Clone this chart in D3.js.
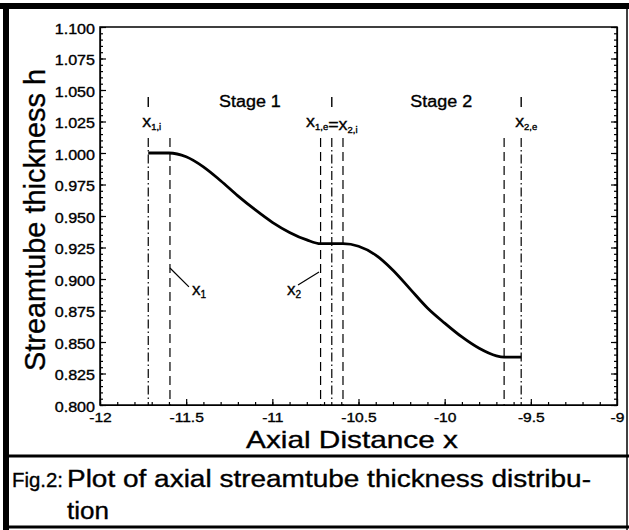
<!DOCTYPE html>
<html>
<head>
<meta charset="utf-8">
<script src="https://cdn.jsdelivr.net/npm/d3@7/dist/d3.min.js"></script>
<style>
  body { margin: 0; background: #fff; }
  svg text { font-family: "Liberation Sans", Arial, Helvetica, sans-serif; fill: #000; stroke: #000; stroke-width: 0.35px; }
</style>
</head>
<body>
<svg id="chart" width="629" height="530"></svg>
<script>
// curva h(x), estagio 1 e estagio 2
const stage1X = [-11.72, -11.60, -11.50, -11.40, -11.30, -11.20, -11.10, -11.00, -10.90, -10.80, -10.72];
const stage1H = [1.000, 1.000, 0.997, 0.989, 0.978, 0.966, 0.955, 0.945, 0.937, 0.931, 0.928];
const stage2X = [-10.72, -10.59, -10.50, -10.40, -10.30, -10.20, -10.10, -10.00, -9.90, -9.80, -9.70, -9.655, -9.556];
const stage2H = [0.928, 0.928, 0.926, 0.919, 0.907, 0.892, 0.877, 0.865, 0.854, 0.845, 0.839, 0.838, 0.838];

// estacoes (traco-ponto) e bordas (tracejado)
const stationX = [-11.72, -10.655, -9.556];
const stationNames = [
    [['x', '1,i']],
    [['x', '1,e'], ['=', ''], ['x', '2,i']],
    [['x', '2,e']]
];
const edgeX = [-11.594, -10.72, -10.59, -9.655];
const stageNames = ['Stage 1', 'Stage 2'];
const stageMidX = [-11.13, -10.02];

// setas x1 e x2: de (x,h) ate (x,h)
const leaderNames = [['x', '1'], ['x', '2']];
const leaderFrom = [[-11.594, 0.9087], [-10.729, 0.9056]];
const leaderTo = [[-11.484, 0.8937], [-10.851, 0.8952]];
const leaderText = [[-11.466, 0.8873], [-10.915, 0.8873]];

const xTicks = [-12, -11.5, -11, -10.5, -10, -9.5, -9];
const yTicks = [0.800, 0.825, 0.850, 0.875, 0.900, 0.925, 0.950, 0.975, 1.000, 1.025, 1.050, 1.075, 1.100];

const width = 629;
const height = 530;
const MARGINS = { top: 27, right: 12, bottom: 125, left: 100 };
const innerW = width - MARGINS.left - MARGINS.right;
const innerH = height - MARGINS.top - MARGINS.bottom;
const STRETCH = 1.2; // a figura escaneada esta esticada na horizontal

const svg = d3.select('#chart');
svg.append('rect').attr('width', width).attr('height', height).attr('fill', '#fff');

const x = d3.scaleLinear().domain([-12, -9]).range([0, innerW]);
const y = d3.scaleLinear().domain([0.8, 1.1]).range([innerH, 0]);

const stretch = (sel, k) => {
    sel.each(function () {
        const len = this.getComputedTextLength();
        d3.select(this).attr('textLength', len * k).attr('lengthAdjust', 'spacingAndGlyphs');
    });
};

const g = svg.append('g').attr('transform', `translate(${MARGINS.left},${MARGINS.top})`);

// ticks menores (para dentro)
const minorX = d3.range(-12, -9.0001, 0.1);
const minorY = d3.range(0.8, 1.1001, 0.005);

g.append('g')
    .attr('transform', `translate(0,${innerH})`)
    .call(d3.axisBottom(x).tickValues(minorX).tickSize(-3).tickFormat(''))
    .call(a => a.select('.domain').remove());
g.append('g')
    .call(d3.axisLeft(y).tickValues(minorY).tickSize(-3).tickFormat(''))
    .call(a => a.select('.domain').remove());
g.append('g')
    .attr('transform', `translate(${innerW},0)`)
    .call(d3.axisRight(y).tickValues(minorY).tickSize(-3).tickFormat(''))
    .call(a => a.select('.domain').remove());

// eixos principais
const xAxis = g.append('g')
    .attr('class', 'x-axis')
    .attr('transform', `translate(0,${innerH})`)
    .call(d3.axisBottom(x).tickValues(xTicks).tickSizeInner(-6).tickSizeOuter(0).tickPadding(9)
        .tickFormat(d => String(d)));
xAxis.selectAll('text').attr('font-size', 13).attr('dy', '0.6em');

const yAxis = g.append('g')
    .attr('class', 'y-axis')
    .call(d3.axisLeft(y).tickValues(yTicks).tickSizeInner(-6).tickSizeOuter(0).tickPadding(5)
        .tickFormat(d3.format('.3f')));
yAxis.selectAll('text').attr('font-size', 14).attr('dy', '0.45em');

g.append('g')
    .attr('transform', `translate(${innerW},0)`)
    .call(d3.axisRight(y).tickValues(yTicks).tickSize(-6).tickFormat(''));

g.selectAll('.tick line, .domain').attr('stroke', '#000').attr('stroke-width', 1.2);
g.selectAll('.x-axis text, .y-axis text').attr('fill', '#000');
stretch(g.selectAll('.x-axis text'), STRETCH);
stretch(g.selectAll('.y-axis text'), 1.15);

// moldura do grafico
g.append('rect')
    .attr('width', innerW).attr('height', innerH)
    .attr('fill', 'none').attr('stroke', '#000').attr('stroke-width', 1.5);

// linhas verticais
const hTop = 1.012;
g.selectAll('.edge')
    .data(edgeX)
    .enter()
    .append('line')
    .attr('class', 'edge')
    .attr('x1', d => x(d)).attr('x2', d => x(d))
    .attr('y1', y(hTop)).attr('y2', y(0.8))
    .attr('stroke', '#000').attr('stroke-width', 1.2)
    .attr('stroke-dasharray', '9,5');

g.selectAll('.station')
    .data(stationX)
    .enter()
    .append('line')
    .attr('class', 'station')
    .attr('x1', d => x(d)).attr('x2', d => x(d))
    .attr('y1', y(hTop)).attr('y2', y(0.8))
    .attr('stroke', '#000').attr('stroke-width', 1.2)
    .attr('stroke-dasharray', '9,3,1.5,3');

g.selectAll('.station-top')
    .data(stationX)
    .enter()
    .append('line')
    .attr('x1', d => x(d)).attr('x2', d => x(d))
    .attr('y1', y(1.0445)).attr('y2', y(1.0365))
    .attr('stroke', '#000').attr('stroke-width', 1.4);

// nomes das estacoes
const addLabel = (sel, parts, big, small) => {
    parts.forEach(([main, sub]) => {
        sel.append('tspan').attr('font-size', big).text(main);
        if (sub) {
            sel.append('tspan').attr('font-size', small).attr('dy', 3).text(sub);
            sel.append('tspan').attr('font-size', big).attr('dy', -3).text('');
        }
    });
};

stationNames.forEach((parts, i) => {
    const t = g.append('text')
        .attr('class', 'station-label')
        .attr('x', i === 1 ? x(stationX[i]) : x(stationX[i]) - 6)
        .attr('y', y(1.0205))
        .attr('text-anchor', i === 1 ? 'middle' : 'start');
    addLabel(t, parts, 17, 9);
});
stretch(g.selectAll('.station-label'), 1.05);

g.selectAll('.stage')
    .data(stageNames)
    .enter()
    .append('text')
    .attr('class', 'stage')
    .attr('x', (d, i) => x(stageMidX[i]))
    .attr('y', y(1.0365))
    .attr('text-anchor', 'middle')
    .attr('font-size', 16)
    .text(d => d);
stretch(g.selectAll('.stage'), 1.12);

// setas de x1 e x2
leaderNames.forEach((parts, i) => {
    g.append('line')
        .attr('x1', x(leaderFrom[i][0])).attr('y1', y(leaderFrom[i][1]))
        .attr('x2', x(leaderTo[i][0])).attr('y2', y(leaderTo[i][1]))
        .attr('stroke', '#000').attr('stroke-width', 1.2);
    const t = g.append('text')
        .attr('x', x(leaderText[i][0]))
        .attr('y', y(leaderText[i][1]));
    addLabel(t, [parts], 17, 10);
});

// a curva
const points = stage1X.map((d, i) => ({ x: d, h: stage1H[i] }))
    .concat(stage2X.slice(1).map((d, i) => ({ x: d, h: stage2H[i + 1] })));

const line = d3.line()
    .x(d => x(d.x))
    .y(d => y(d.h))
    .curve(d3.curveMonotoneX);

g.append('path')
    .datum(points)
    .attr('d', line)
    .attr('fill', 'none')
    .attr('stroke', '#000')
    .attr('stroke-width', 2.8);

// titulos dos eixos
svg.append('text')
    .attr('transform', `translate(45,${MARGINS.top + innerH / 2 + 4}) rotate(-90)`)
    .attr('text-anchor', 'middle')
    .attr('font-size', 29)
    .attr('textLength', 302)
    .attr('lengthAdjust', 'spacingAndGlyphs')
    .text('Streamtube thickness h');

svg.append('text')
    .attr('x', 352)
    .attr('y', 448)
    .attr('text-anchor', 'middle')
    .attr('font-size', 24)
    .attr('textLength', 212)
    .attr('lengthAdjust', 'spacingAndGlyphs')
    .text('Axial Distance x');

// legenda da figura
svg.append('text').attr('x', 12).attr('y', 487).attr('font-size', 21)
    .attr('textLength', 51).attr('lengthAdjust', 'spacingAndGlyphs').text('Fig.2:');
svg.append('text').attr('x', 67).attr('y', 487).attr('font-size', 23)
    .attr('textLength', 524).attr('lengthAdjust', 'spacingAndGlyphs')
    .text('Plot of axial streamtube thickness distribu-');
svg.append('text').attr('x', 67).attr('y', 519).attr('font-size', 23)
    .attr('textLength', 42).attr('lengthAdjust', 'spacingAndGlyphs').text('tion');

// moldura externa
const frame = svg.append('g').attr('stroke', '#000');
frame.append('line').attr('x1', 0).attr('x2', width).attr('y1', 6).attr('y2', 6).attr('stroke-width', 6);
frame.append('line').attr('x1', 6).attr('x2', 6).attr('y1', 3).attr('y2', height).attr('stroke-width', 6);
frame.append('line').attr('x1', 627).attr('x2', 627).attr('y1', 3).attr('y2', height).attr('stroke-width', 1.5);
frame.append('line').attr('x1', 3).attr('x2', width).attr('y1', 456).attr('y2', 456).attr('stroke-width', 3);
frame.append('line').attr('x1', 3).attr('x2', width).attr('y1', 527).attr('y2', 527).attr('stroke-width', 3);
</script>
</body>
</html>
